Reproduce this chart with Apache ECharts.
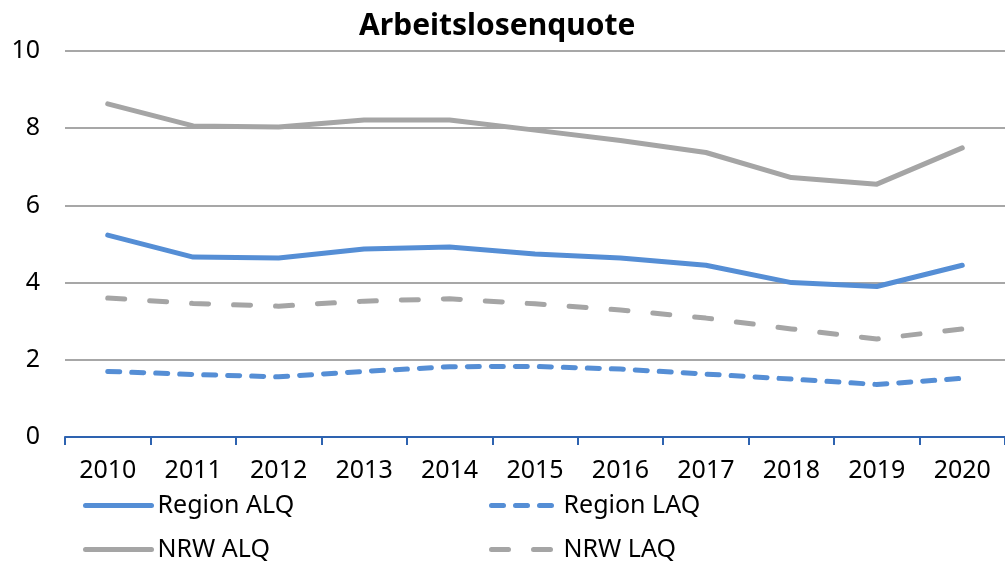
<!DOCTYPE html>
<html>
<head>
<meta charset="utf-8">
<script src="https://cdn.jsdelivr.net/npm/echarts@6/dist/echarts.min.js"></script>
<style>
  html, body { margin: 0; padding: 0; background: #fff; }
  #chart { width: 1005px; height: 563px; }
</style>
</head>
<body>
<div id="chart"></div>
<script>
const years = ["2010", "2011", "2012", "2013", "2014", "2015", "2016", "2017", "2018", "2019", "2020"];
const regionAlq = [5.23, 4.66, 4.64, 4.87, 4.92, 4.74, 4.64, 4.45, 4.0, 3.9, 4.45];
const regionLaq = [1.7, 1.62, 1.56, 1.7, 1.82, 1.83, 1.76, 1.63, 1.5, 1.36, 1.52];
const nrwAlq = [8.63, 8.06, 8.03, 8.21, 8.21, 7.95, 7.68, 7.37, 6.72, 6.55, 7.49];
const nrwLaq = [3.6, 3.46, 3.39, 3.52, 3.58, 3.45, 3.29, 3.08, 2.8, 2.54, 2.8];
const yTicks = [0, 2, 4, 6, 8, 10];

const font = "Noto Sans";
const blue = "#558ed5";
const gray = "#a5a5a5";

let chart = echarts.init(document.getElementById("chart"));

function lineSeries(name, data, color, dash) {
  return {
    name: name,
    type: "line",
    data: data,
    symbol: "none",
    showSymbol: false,
    lineStyle: {
      color: color,
      width: 5,
      type: dash || "solid",
      cap: "round",
      join: "round",
    },
    itemStyle: { color: color },
  };
}

// ein Legendeneintrag pro Position (2 Spalten x 2 Zeilen)
function legendItem(name, left, top) {
  return {
    left: left,
    top: top,
    itemWidth: 66,
    itemHeight: 14,
    itemGap: 0,
    data: [name],
    itemStyle: { opacity: 0 },
    lineStyle: { width: 5, cap: "round" },
    textStyle: { fontFamily: font, fontSize: 25, color: "#000", padding: [0, 0, 0, 1] },
  };
}

let option = {
  animation: false,
  title: {
    text: "Arbeitslosenquote",
    left: 354,
    top: 6,
    textStyle: { fontFamily: font, fontSize: 30, fontWeight: "bold", color: "#000" },
  },
  legend: [
    legendItem("Region ALQ", 78, 488),
    legendItem("Region LAQ", 484, 488),
    legendItem("NRW ALQ", 78, 532),
    legendItem("NRW LAQ", 484, 532),
  ],
  grid: { left: 65, right: 0, top: 51, bottom: 126, containLabel: false },
  xAxis: {
    type: "category",
    data: years,
    boundaryGap: true,
    axisLine: { show: true, lineStyle: { color: "#2e63b0", width: 2 } },
    axisTick: { show: true, length: 8, lineStyle: { color: "#2e63b0", width: 2 } },
    axisLabel: { fontFamily: font, fontSize: 25, color: "#000", margin: 21 },
  },
  yAxis: {
    type: "value",
    min: yTicks[0],
    max: yTicks[yTicks.length - 1],
    interval: 2,
    axisLine: { show: false },
    axisTick: { show: false },
    axisLabel: { fontFamily: font, fontSize: 25, color: "#000", margin: 25 },
    splitLine: { lineStyle: { color: "#8a8a8a", width: 1.5 } },
  },
  series: [
    lineSeries("Region ALQ", regionAlq, blue),
    lineSeries("Region LAQ", regionLaq, blue, [12, 12]),
    lineSeries("NRW ALQ", nrwAlq, gray),
    lineSeries("NRW LAQ", nrwLaq, gray, [17, 25]),
  ],
};
chart.setOption(option);
</script>
</body>
</html>
